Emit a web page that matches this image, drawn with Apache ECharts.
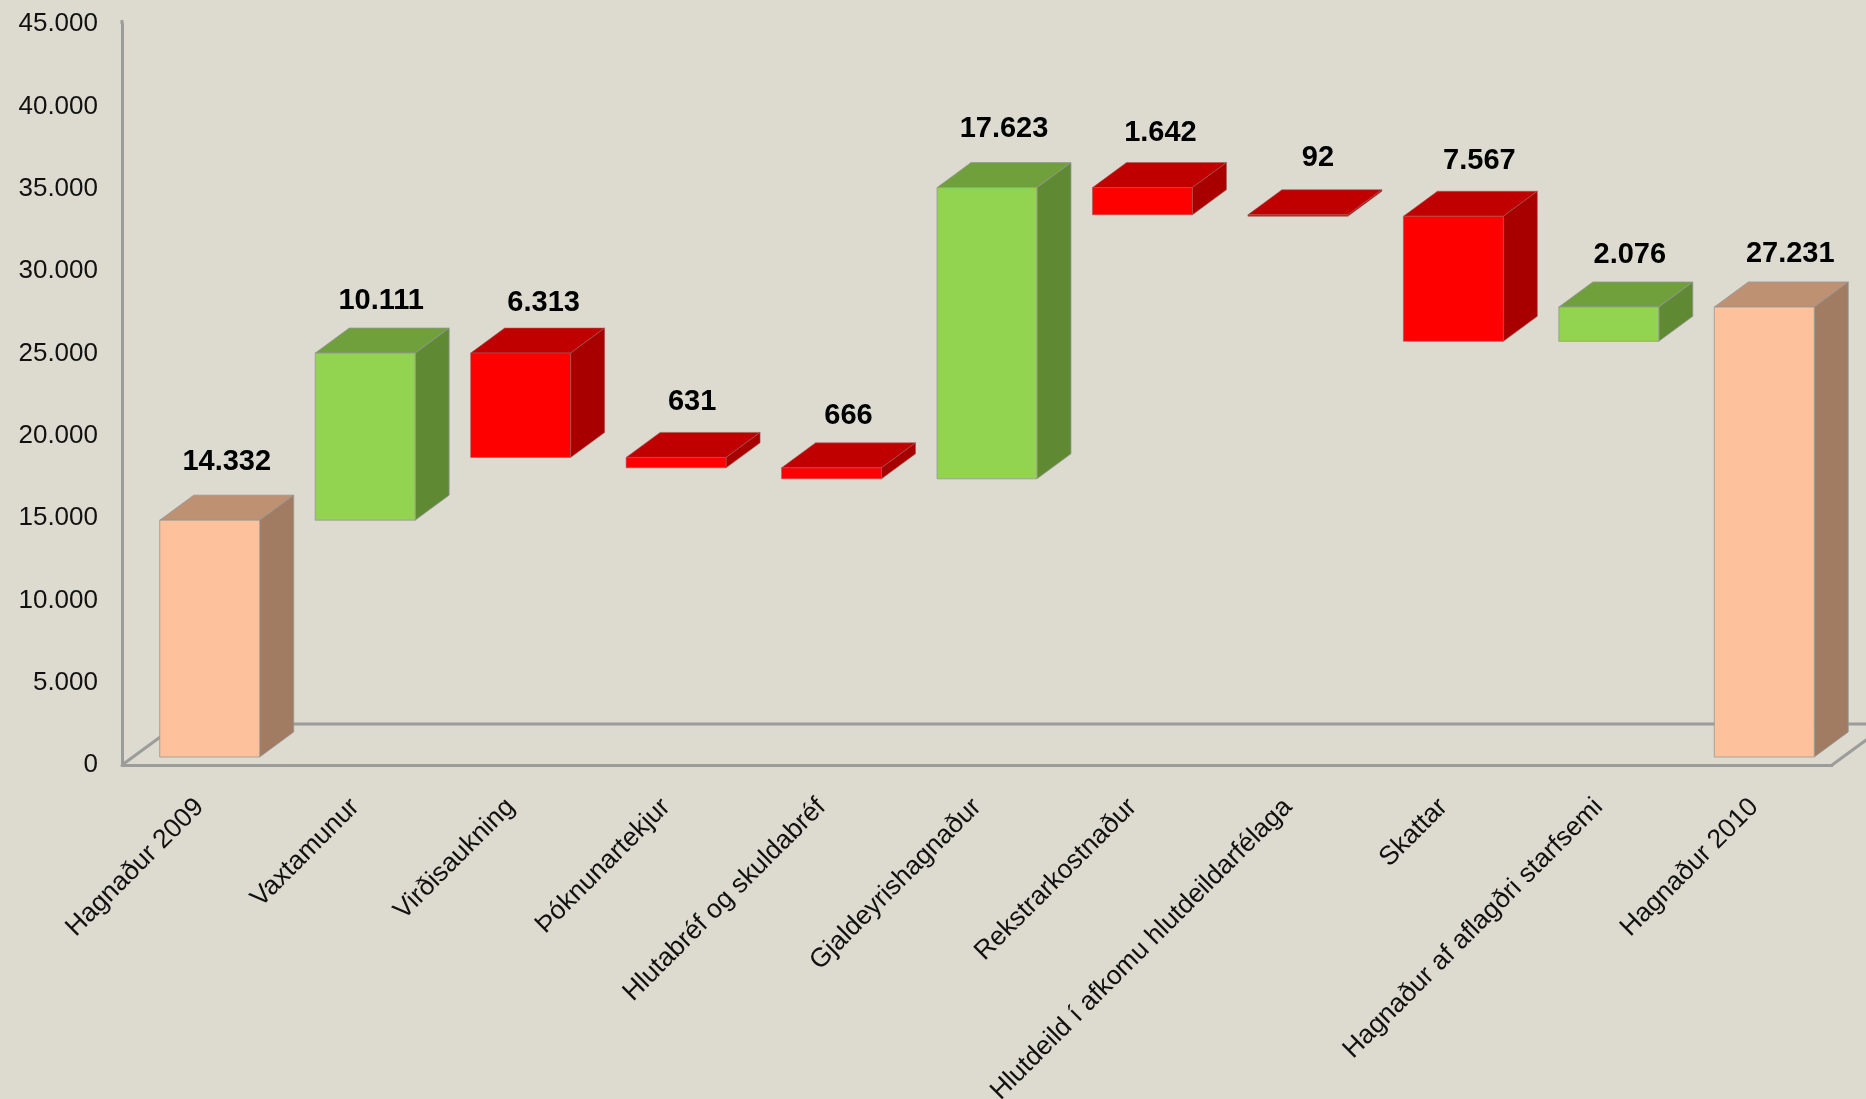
<!DOCTYPE html>
<html>
<head>
<meta charset="utf-8">
<style>html,body{margin:0;padding:0;background:#DDDBD0;overflow:hidden}#c{width:1866px;height:1099px}</style>
<script src="https://cdn.jsdelivr.net/npm/echarts@6/dist/echarts.min.js"></script>
</head>
<body>
<div id="c"></div>
<script>
const categories = ['Hagnaður 2009','Vaxtamunur','Virðisaukning','Þóknunartekjur','Hlutabréf og skuldabréf','Gjaldeyrishagnaður','Rekstrarkostnaður','Hlutdeild í afkomu hlutdeildarfélaga','Skattar','Hagnaður af aflagðri starfsemi','Hagnaður 2010'];
const lowValues  = [0,14332,18130,17499,16833,16833,32814,32722,25155,25155,0];
const highValues = [14332,24443,24443,18130,17499,34456,34456,32814,32722,27231,27231];
const shownValues = [14332,10111,6313,631,666,17623,1642,92,7567,2076,27231];
const barKinds = ['total','up','down','down','down','up','down','down','down','up','total'];
const yTicks = {min:0,max:45000,step:5000};
const barAxisMax = 44840;

const palette = {
  total:{front:'#FDC19B',top:'#BF9173',side:'#A27C62',edge:'rgba(150,150,150,0.8)'},
  up:{front:'#92D350',top:'#6FA03C',side:'#5F8A33',edge:'rgba(150,150,150,0.8)'},
  down:{front:'#FF0000',top:'#C00000',side:'#A80000',edge:'rgba(160,90,90,0.6)'}
};
const fmt = v => String(v).replace(/\B(?=(\d{3})+$)/g,'.');
const FONT = '"Liberation Sans", Arial, sans-serif';
const AXIS = '#9C9C9A';
// 3D look
const DX=34, DY=25, INX=10, INY=8, FLOORX=56, FLOORY=41, WALLEXTRA=4;
// small hand placement of the value labels, per bar
const labelNudgeX = [0,-1,6,-1,0,0,1,3,9,4,9];
const labelNudgeY = [-2,3,5,1,4,-4,0,-2,0,3,2];

const chart = echarts.init(document.getElementById('c'),null,{renderer:'canvas'});
chart.setOption({
  animation:false,
  backgroundColor:'#DDDBD0',
  grid:{left:122,right:34,top:24,bottom:334,outerBoundsMode:'none'},
  xAxis:{type:'category',data:categories,boundaryGap:true,
    axisTick:{show:false},
    axisLine:{lineStyle:{color:AXIS,width:3}},
    axisLabel:{interval:0,rotate:45,margin:38,fontFamily:FONT,fontSize:26.5,color:'#111'}},
  yAxis:[
    {type:'value',min:yTicks.min,max:yTicks.max,interval:yTicks.step,
     splitLine:{show:false},axisTick:{show:false},
     axisLine:{show:true,lineStyle:{color:AXIS,width:3}},
     axisLabel:{margin:24,fontFamily:FONT,fontSize:26,color:'#111',formatter:v=>fmt(v)}},
    {type:'value',min:0,max:barAxisMax,show:false,splitLine:{show:false}}
  ],
  series:[
    {type:'custom',silent:true,clip:false,z:1,yAxisIndex:0,data:[[0,0,0]],encode:{x:0,y:1},
     renderItem(params,api){
       const cs=params.coordSys, o=api.coord([0,0]), y=o[1], l=cs.x, r=cs.x+cs.width;
       const st={stroke:AXIS,lineWidth:3,fill:null};
       return {type:'group',children:[
         {type:'polyline',shape:{points:[[l,y],[l+FLOORX,y-FLOORY],[r+FLOORX,y-FLOORY]]},style:st},
         {type:'line',shape:{x1:r,y1:y,x2:r+FLOORX,y2:y-FLOORY},style:st},
         {type:'line',shape:{x1:l,y1:cs.y,x2:l,y2:cs.y-WALLEXTRA},style:st}
       ]};
     }},
    {type:'custom',silent:true,clip:false,z:3,yAxisIndex:1,
     encode:{x:0,y:[1,2]},
     data:categories.map((c,i)=>[i,lowValues[i],highValues[i],shownValues[i]]),
     renderItem(params,api){
       const i=api.value(0), k=palette[barKinds[i]];
       const band=api.size([1,0])[0], w=band*0.643;
       const lo=api.coord([i,api.value(1)]), hi=api.coord([i,api.value(2)]);
       const x0=lo[0]-w/2+INX, x1=x0+w, yb=lo[1]-INY, yt=hi[1]-INY;
       const edge={stroke:k.edge,lineWidth:1};
       const poly=(pts,fill)=>({type:'polygon',shape:{points:pts},style:Object.assign({fill},edge)});
       return {type:'group',children:[
         poly([[x0,yt],[x0+DX,yt-DY],[x1+DX,yt-DY],[x1,yt]],k.top),
         poly([[x1,yt],[x1+DX,yt-DY],[x1+DX,yb-DY],[x1,yb]],k.side),
         poly([[x0,yt],[x1,yt],[x1,yb],[x0,yb]],k.front),
         {type:'text',style:{text:fmt(api.value(3)),x:(x0+x1+DX)/2+labelNudgeX[i],y:yt-DY-32+labelNudgeY[i]+(api.value(2)*0.00006),
           align:'center',verticalAlign:'middle',fill:'#000',
           font:'bold 29px '+FONT}}
       ]};
     }}
  ]
});
</script>
</body>
</html>
